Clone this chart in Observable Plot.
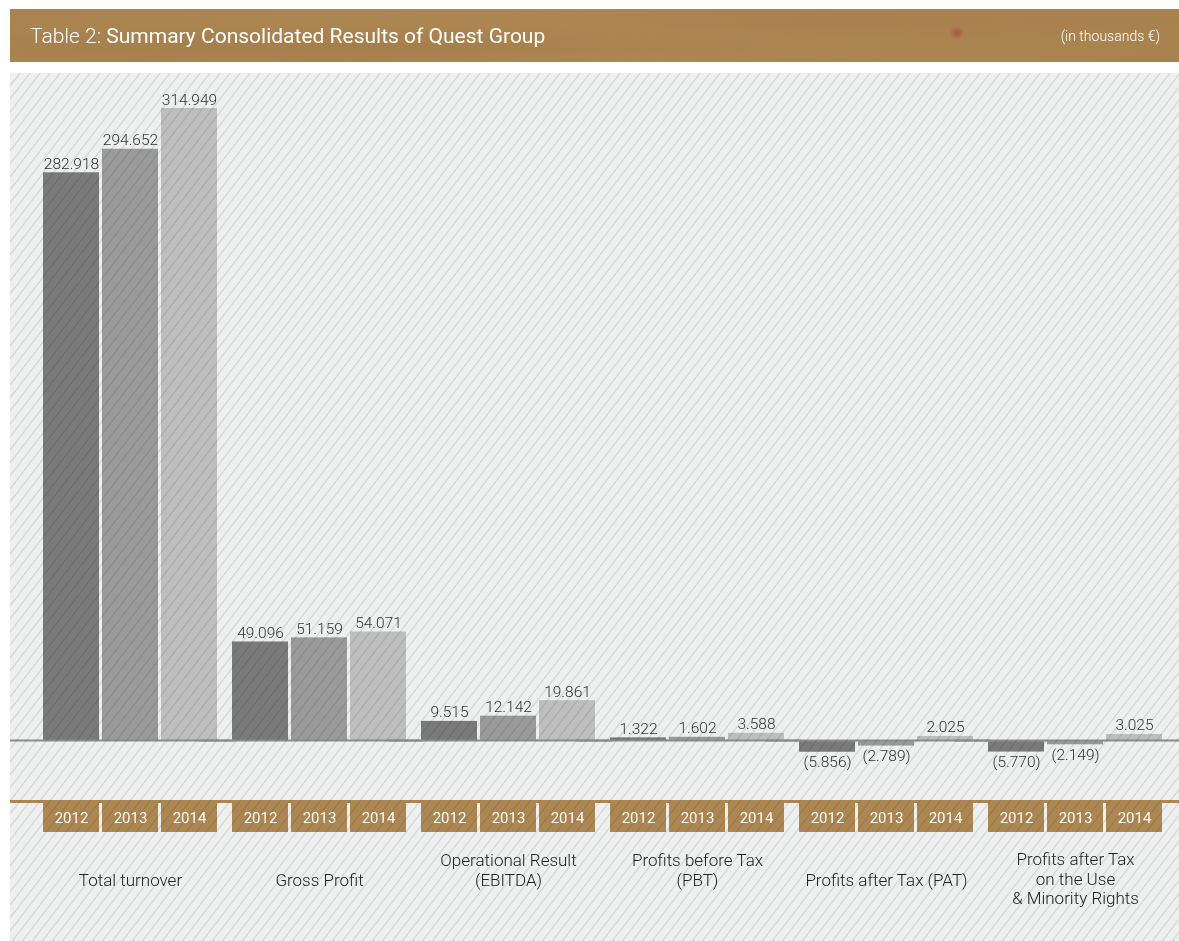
<!DOCTYPE html>
<html>
<head>
<meta charset="utf-8">
<script src="https://cdn.jsdelivr.net/npm/d3@7"></script>
<script src="https://cdn.jsdelivr.net/npm/@observablehq/plot@0.6"></script>
<style>
  body { margin: 0; background: #fff; font-family: Roboto, "Liberation Sans", sans-serif; }
  #title {
    position: absolute; left: 10px; top: 9px; width: 1169px; height: 53px;
    background:
      radial-gradient(circle at 81% 45%, rgba(170,40,60,0.55) 0px, rgba(170,40,60,0) 7px),
      radial-gradient(ellipse at 30% 70%, rgba(140,90,50,0.18), rgba(0,0,0,0) 40%),
      radial-gradient(ellipse at 70% 20%, rgba(160,100,60,0.15), rgba(0,0,0,0) 35%),
      linear-gradient(90deg, #a9844f, #ad8752 50%, #a8834e);
    display: flex; align-items: center; justify-content: space-between;
    box-sizing: border-box; padding: 0 19px 0 20px; color: #fff;
  }
  #title .main { font-size: 21px; font-weight: 400; }
  #title .main .lite { font-weight: 300; }
  #title .unit { font-size: 14px; font-weight: 300; }
  #panel {
    position: absolute; left: 10px; top: 73px; width: 1169px; height: 868px;
    background: #eef0f0; overflow: hidden;
  }
  #footer { border-top: 3px solid #ad8752; }
  #hatch {
    position: absolute; left: 0; top: 0; width: 100%; height: 100%; pointer-events: none;
    background-image: url("data:image/svg+xml;utf8,<svg xmlns='http://www.w3.org/2000/svg' width='10' height='13'><path d='M0 13L10 0M-10 13L0 0M10 13L20 0' stroke='black' stroke-opacity='0.11' stroke-width='1.1'/></svg>");
    background-size: 10px 13px;
    mix-blend-mode: multiply;
  }
  svg { display: block; }
</style>
</head>
<body>
<div id="title"><div class="main"><span class="lite">Table 2:</span> Summary Consolidated Results of Quest Group</div><div class="unit">(in thousands €)</div></div>
<div id="panel">
  <div id="bars"></div>
  <div id="footer"></div>
  <div id="hatch"></div>
</div>
<script>
// ---- data ----
const categories = [
  "Total turnover",
  "Gross Profit",
  "Operational Result\n(EBITDA)",
  "Profits before Tax\n(PBT)",
  "Profits after Tax (PAT)",
  "Profits after Tax\non the Use\n& Minority Rights"
];
const years = ["2012", "2013", "2014"];
const values2012 = [282918, 49096, 9515, 1322, -5856, -5770];
const values2013 = [294652, 51159, 12142, 1602, -2789, -2149];
const values2014 = [314949, 54071, 19861, 3588, 2025, 3025];
const yearColors = ["#7a7a7a", "#9a9a9a", "#bebebe"];
const brown = "#ad8752";

const series = [values2012, values2013, values2014];
const rows = [];
categories.forEach((c, i) => years.forEach((y, j) => rows.push({category: c, year: y, value: series[j][i]})));

const fmt = v => {
  const s = d3.format(",")(Math.abs(v)).replace(/,/g, ".");
  return v < 0 ? `(${s})` : s;
};

const W = 1169, mL = 33, mR = 17;
const fxScale = {domain: categories, paddingInner: 15 / 189, paddingOuter: 0, axis: null};
const xScale = {domain: years, paddingInner: 3 / 59, paddingOuter: 0, axis: null};
const yMax = d3.max(rows, d => d.value);
const yFloor = -29900;
const font = "Roboto, 'Liberation Sans', sans-serif";

const chart = Plot.plot({
  width: W, height: 727,
  marginLeft: mL, marginRight: mR, marginTop: 35, marginBottom: 0,
  style: {background: "transparent", fontFamily: font, overflow: "visible"},
  fx: fxScale, x: xScale,
  y: {domain: [yFloor, yMax], axis: null},
  color: {domain: years, range: yearColors},
  marks: [
    Plot.barY(rows, {fx: "category", x: "year", y: "value", fill: "year"}),
    Plot.ruleY([0], {stroke: "#8c8c8c", strokeWidth: 2, insetLeft: -mL, insetRight: -mR}),
    Plot.text(rows.filter(d => d.value >= 0), {fx: "category", x: "year", y: "value", text: d => fmt(d.value),
      lineAnchor: "bottom", dy: -4, fontSize: 15.5, fontWeight: 300, fill: "#333"}),
    Plot.text(rows.filter(d => d.value < 0), {fx: "category", x: "year", y: "value", text: d => fmt(d.value),
      lineAnchor: "top", dy: 4, fontSize: 15.5, fontWeight: 300, fill: "#333"})
  ]
});
document.getElementById("bars").append(chart);

const lineCount = s => s.split("\n").length;
const footer = Plot.plot({
  width: W, height: 138,
  marginLeft: mL, marginRight: mR, marginTop: 0, marginBottom: 109,
  style: {background: "transparent", fontFamily: font, overflow: "visible"},
  fx: fxScale, x: xScale,
  marks: [
    Plot.cell(rows, {fx: "category", x: "year", fill: brown}),
    Plot.text(rows, {fx: "category", x: "year", text: "year", fill: "#fff", fontSize: 15, frameAnchor: "middle"}),
    Plot.text(categories.filter(c => lineCount(c) <= 2), {fx: d => d, text: d => d, frameAnchor: "top",
      lineAnchor: "bottom", dy: 82, fontSize: 17, fontWeight: 300, fill: "#222", lineHeight: 1.15}),
    Plot.text(categories.filter(c => lineCount(c) > 2), {fx: d => d, text: d => d, frameAnchor: "top",
      lineAnchor: "top", dy: 48, fontSize: 17, fontWeight: 300, fill: "#222", lineHeight: 1.15})
  ]
});
document.getElementById("footer").append(footer);
</script>
</body>
</html>
